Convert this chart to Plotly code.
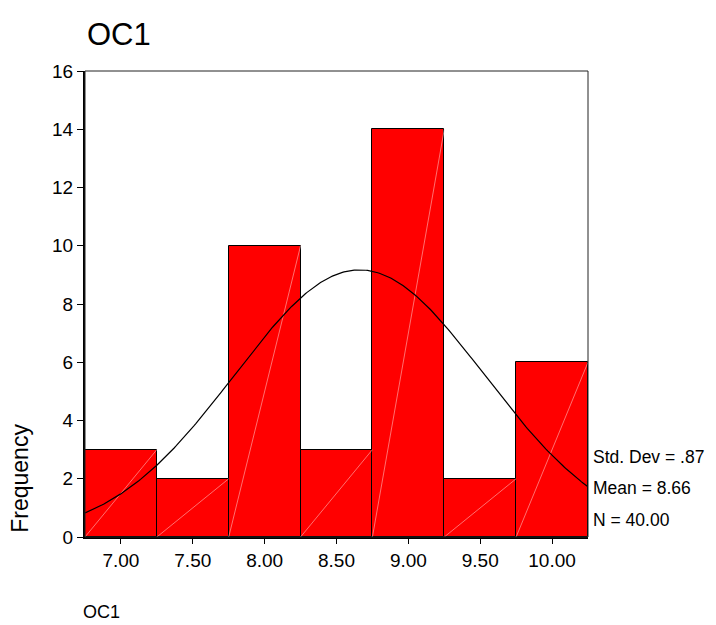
import numpy as np
import plotly.graph_objects as go

# Data
bin_centers = [7.00, 7.50, 8.00, 8.50, 9.00, 9.50, 10.00]
frequencies = [3, 2, 10, 3, 14, 2, 6]
bin_width = 0.5
std_dev = 0.87
mean = 8.66
n = 40
y_ticks = [0, 2, 4, 6, 8, 10, 12, 14, 16]
x_tick_labels = ["7.00", "7.50", "8.00", "8.50", "9.00", "9.50", "10.00"]

FONT = "Liberation Sans, Arial, sans-serif"

fig = go.Figure()

fig.add_trace(go.Bar(
    x=bin_centers, y=frequencies, width=bin_width,
    marker=dict(color="#FF0000", line=dict(color="black", width=1)),
    showlegend=False, hoverinfo="x+y",
))

# faint diagonal rendering artefacts inside bars (bottom-left to top-right)
dx, dy = [], []
for c, f in zip(bin_centers, frequencies):
    dx += [c - bin_width / 2, c + bin_width / 2, None]
    dy += [0, f, None]
fig.add_trace(go.Scatter(x=dx, y=dy, mode="lines",
                         line=dict(color="rgba(255,200,200,0.8)", width=0.7),
                         showlegend=False, hoverinfo="skip"))

# fitted normal curve
xmin = bin_centers[0] - bin_width / 2
xmax = bin_centers[-1] + bin_width / 2
xs = np.linspace(xmin, xmax, 300)
ys = n * bin_width / (std_dev * np.sqrt(2 * np.pi)) * np.exp(-0.5 * ((xs - mean) / std_dev) ** 2)
fig.add_trace(go.Scatter(x=xs, y=ys, mode="lines", line=dict(color="black", width=1.2),
                         showlegend=False, hoverinfo="skip"))

fig.update_layout(
    width=716, height=625,
    margin=dict(l=77, r=136, t=63, b=96),
    paper_bgcolor="white", plot_bgcolor="white",
    font=dict(family=FONT, color="black", size=19),
    bargap=0,
)

fig.update_xaxes(
    range=[xmin, xmax], tickvals=bin_centers, ticktext=x_tick_labels,
    ticks="outside", ticklen=5, tickcolor="black", tickwidth=1,
    showline=True, linecolor="black", linewidth=2, showgrid=False, zeroline=False,
    tickfont=dict(size=19),
)
fig.update_yaxes(
    range=[0, 16], tickvals=y_ticks,
    ticks="outside", ticklen=6, tickcolor="black", tickwidth=1,
    showline=True, linecolor="black", linewidth=2, showgrid=False, zeroline=False,
    tickfont=dict(size=19),
)

# frame (top and right)
fig.add_shape(type="rect", xref="paper", yref="paper", x0=0, x1=1, y0=0, y1=1,
              line=dict(color="#222222", width=1), layer="above")

# y-axis title (placed low, as in the reference)
fig.add_annotation(text="Frequency", xref="paper", yref="y", x=0, y=2.0, xshift=-65,
                   textangle=-90, xanchor="center", yanchor="middle", showarrow=False,
                   font=dict(size=23))

# title and bottom caption
fig.add_annotation(text="OC1", xref="paper", yref="paper", x=0, y=1, yshift=17,
                   xanchor="left", yanchor="bottom", showarrow=False,
                   font=dict(size=31))
fig.add_annotation(text="OC1", xref="paper", yref="paper", x=0, y=0, yshift=-63,
                   xshift=-4, xanchor="left", yanchor="top", showarrow=False,
                   font=dict(size=18))

# stats
stats = [f"Std. Dev = {std_dev:.2f}".replace("0.", "."), f"Mean = {mean:.2f}", f"N = {n:.2f}"]
stat_y = [2.75, 1.68, 0.58]
for t, yv in zip(stats, stat_y):
    fig.add_annotation(text=t, xref="paper", yref="y", x=1, y=yv, xshift=3,
                       xanchor="left", yanchor="middle", showarrow=False,
                       font=dict(size=17.5))

fig.write_html("out.html")
